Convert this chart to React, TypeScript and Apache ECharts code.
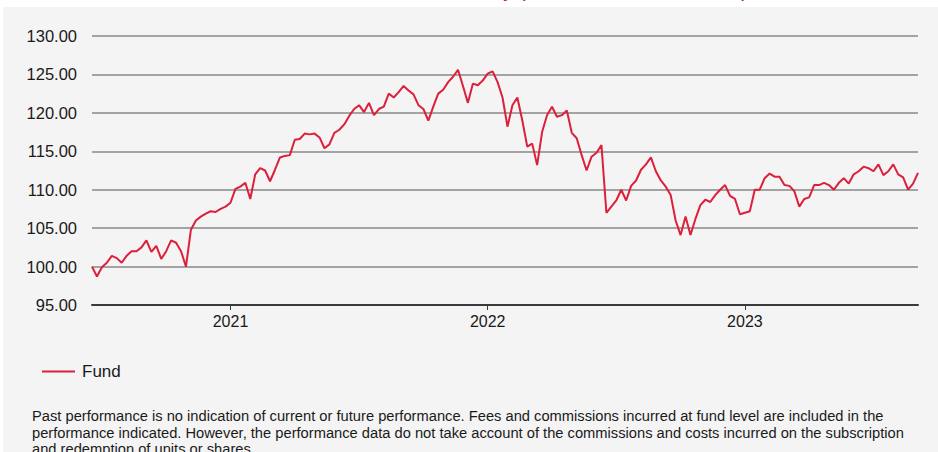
import React, { useEffect, useRef } from "react";
import * as echarts from "echarts";

// ---- data ----
const startDate = "2020-06-19"; // first weekly observation
const seriesName = "Fund";
const fundValues: number[] = [
  100.0, 98.7, 99.9, 100.5, 101.4, 101.1, 100.5, 101.4, 102.0, 102.0,
  102.5, 103.4, 101.9, 102.7, 101.0, 102.0, 103.4, 103.1, 102.0, 100.0,
  104.8, 106.0, 106.5, 106.9, 107.2, 107.1, 107.5, 107.8, 108.3, 110.1,
  110.4, 110.9, 108.8, 112.0, 112.8, 112.5, 111.1, 112.6, 114.2, 114.4,
  114.5, 116.5, 116.6, 117.3, 117.2, 117.3, 116.8, 115.4, 115.9, 117.4,
  117.8, 118.5, 119.6, 120.5, 121.0, 120.1, 121.3, 119.7, 120.5, 120.8,
  122.5, 122.0, 122.7, 123.5, 122.9, 122.4, 121.0, 120.5, 119.0, 120.8,
  122.5, 123.0, 124.0, 124.7, 125.6, 123.5, 121.3, 123.8, 123.6, 124.2,
  125.1, 125.4, 124.0, 122.0, 118.2, 121.0, 122.0, 119.0, 115.6, 116.0,
  113.2, 117.5, 119.7, 120.8, 119.5, 119.7, 120.3, 117.4, 116.7, 114.5,
  112.5, 114.3, 114.8, 115.8, 107.0, 107.8, 108.6, 110.0, 108.6, 110.5,
  111.2, 112.6, 113.3, 114.2, 112.4, 111.2, 110.4, 109.3, 106.0, 104.1,
  106.5, 104.1, 106.2, 108.0, 108.7, 108.4, 109.3, 110.0, 110.6, 109.2,
  108.8, 106.8, 107.0, 107.2, 110.0, 110.0, 111.5, 112.1, 111.7, 111.7,
  110.6, 110.5, 109.8, 107.8, 108.8, 109.0, 110.6, 110.6, 110.9, 110.6,
  110.0, 110.9, 111.5, 110.8, 112.0, 112.4, 113.0, 112.8, 112.4, 113.3,
  111.9, 112.4, 113.3, 112.0, 111.6, 110.0, 110.8, 112.2,
];
const yMin = 95;
const yMax = 130;
const yStep = 5;
const titleText = "Net Asset Value Evolution - Weekly (base 100 on 19.06.2020)";
const disclaimerLines = [
  "Past performance is no indication of current or future performance. Fees and commissions incurred at fund level are included in the",
  "performance indicated. However, the performance data do not take account of the commissions and costs incurred on the subscription",
  "and redemption of units or shares.",
];

function buildWeeklyDates(start: string, count: number): string[] {
  const out: string[] = [];
  const t0 = Date.parse(start + "T00:00:00Z");
  for (let i = 0; i < count; i++) {
    out.push(new Date(t0 + i * 7 * 86400000).toISOString().slice(0, 10));
  }
  return out;
}

function isYearBoundary(v: string): boolean {
  const d = new Date(v + "T00:00:00Z");
  const m = d.getUTCMonth();
  const day = d.getUTCDate();
  return (m === 0 && day <= 3) || (m === 11 && day >= 29);
}

function yearLabel(v: string): string {
  const d = new Date(v + "T00:00:00Z");
  const y = d.getUTCFullYear();
  return String(d.getUTCMonth() === 11 ? y + 1 : y);
}

const FONT = "'Liberation Sans', Arial, sans-serif";

export default function App() {
  const ref = useRef<HTMLDivElement>(null);
  useEffect(() => {
    if (!ref.current) return;
    const chart = echarts.init(ref.current, undefined, { renderer: "svg" });
    const dates = buildWeeklyDates(startDate, fundValues.length);
    chart.setOption({
      animation: false,
      backgroundColor: "#ffffff",
      textStyle: { fontFamily: FONT },
      grid: { left: 92, right: 20, top: 36, bottom: 147, containLabel: false },
      legend: {
        left: 42,
        top: 363,
        padding: 0,
        icon: "rect",
        itemWidth: 33,
        itemHeight: 2,
        itemGap: 10,
        textStyle: { fontSize: 17, color: "#1a1a1a", fontFamily: FONT, padding: [0, 0, 0, 2] },
        data: [seriesName],
      },
      xAxis: {
        type: "category",
        data: dates,
        boundaryGap: false,
        axisLine: { show: true, lineStyle: { color: "#3a3a3a", width: 2 } },
        axisTick: {
          show: true,
          length: 5,
          interval: (_i: number, v: string) => isYearBoundary(v),
          lineStyle: { color: "#3a3a3a", width: 1 },
        },
        axisLabel: {
          interval: (_i: number, v: string) => isYearBoundary(v),
          formatter: (v: string) => yearLabel(v),
          fontSize: 16,
          color: "#1a1a1a",
          fontFamily: FONT,
          margin: 8,
        },
        splitLine: { show: false },
      },
      yAxis: {
        type: "value",
        min: yMin,
        max: yMax,
        interval: yStep,
        axisLine: { show: false },
        axisTick: { show: false },
        axisLabel: {
          formatter: (v: number) => v.toFixed(2),
          fontSize: 16.5,
          color: "#1a1a1a",
          fontFamily: FONT,
          margin: 15,
        },
        splitLine: { show: true, lineStyle: { color: "#a3a3a3", width: 2 } },
      },
      series: [
        {
          name: seriesName,
          type: "line",
          data: fundValues,
          showSymbol: false,
          symbol: "none",
          lineStyle: { color: "#dc1f3a", width: 2 },
          itemStyle: { color: "#dc1f3a" },
          z: 5,
        },
      ],
      graphic: [
        {
          type: "text",
          z: -200,
          silent: true,
          x: 748,
          y: -10,
          style: {
            text: titleText,
            fill: "#b81b3c",
            font: "20px " + FONT,
            textAlign: "right",
            textVerticalAlign: "middle",
          },
        },
        {
          type: "rect",
          z: -100,
          silent: true,
          shape: { x: 3, y: 7, width: 935, height: 445 },
          style: { fill: "#f4f4f4" },
        },
        {
          type: "text",
          z: 10,
          silent: true,
          x: 32,
          y: 408,
          style: {
            text: disclaimerLines.join("\n"),
            fill: "#1a1a1a",
            font: "14.7px " + FONT,
            lineHeight: 16.5,
            textAlign: "left",
            textVerticalAlign: "top",
          },
        },
      ],
    });
    return () => chart.dispose();
  }, []);
  return (
    <div
      ref={ref}
      style={{ position: "fixed", left: 0, top: 0, width: 938, height: 452 }}
    />
  );
}
